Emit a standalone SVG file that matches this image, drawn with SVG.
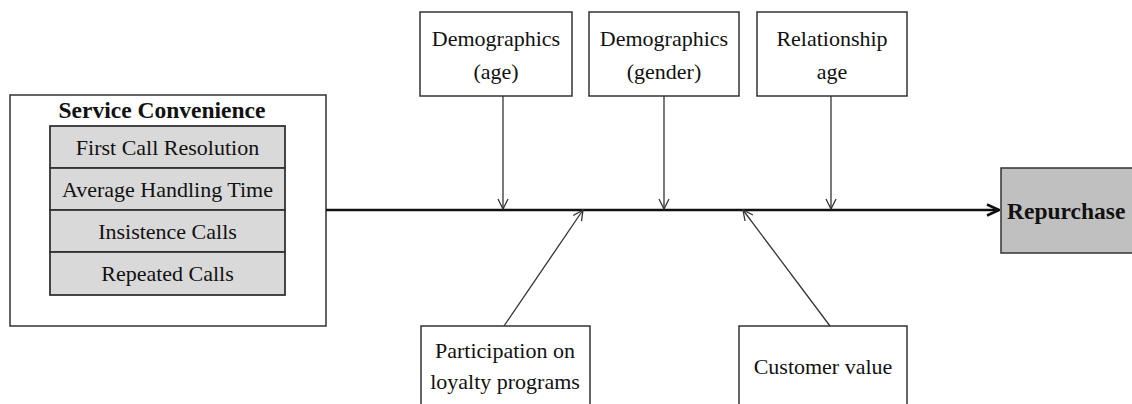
<svg xmlns="http://www.w3.org/2000/svg" width="1132" height="404" viewBox="0 0 1132 404">
<style>
.box{fill:#fff;stroke:#333;stroke-width:1.5}
.row{fill:#d9d9d9;stroke:#333;stroke-width:1.8}
.t{font-family:"Liberation Serif","Times New Roman",serif;font-size:22px;fill:#111;text-anchor:middle}
.b{font-weight:bold;font-size:23.5px}
.thin{stroke:#333;stroke-width:1.3;fill:none}
</style>
<defs>
<marker id="ah" viewBox="0 0 12 12" refX="11" refY="6" markerWidth="12" markerHeight="12" markerUnits="userSpaceOnUse" orient="auto">
<path d="M1,1 L11,6 L1,11" fill="none" stroke="#333" stroke-width="1.3"/>
</marker>
<marker id="ahb" viewBox="0 0 14 14" refX="13" refY="7" markerWidth="14" markerHeight="14" markerUnits="userSpaceOnUse" orient="auto">
<path d="M1,1.5 L13,7 L1,12.5" fill="none" stroke="#111" stroke-width="2.5"/>
</marker>
</defs>
<g id="service">
<rect class="box" x="10" y="95" width="316" height="231"/>
<text class="t b" x="162" y="118">Service Convenience</text>
<rect class="row" x="50" y="126" width="235" height="42"/>
<text class="t" x="167.5" y="155">First Call Resolution</text>
<rect class="row" x="50" y="168" width="235" height="42"/>
<text class="t" x="167.5" y="197">Average Handling Time</text>
<rect class="row" x="50" y="210" width="235" height="42"/>
<text class="t" x="167.5" y="239">Insistence Calls</text>
<rect class="row" x="50" y="252" width="235" height="43"/>
<text class="t" x="167.5" y="281">Repeated Calls</text>
</g>
<g id="demo-age">
<rect class="box" x="420" y="12" width="152" height="84"/>
<text class="t" x="496" y="46">Demographics</text>
<text class="t" x="496" y="79">(age)</text>
</g>
<g id="demo-gender">
<rect class="box" x="589" y="12" width="150" height="84"/>
<text class="t" x="664" y="46">Demographics</text>
<text class="t" x="664" y="79">(gender)</text>
</g>
<g id="rel-age">
<rect class="box" x="757" y="12" width="150" height="84"/>
<text class="t" x="832" y="46">Relationship</text>
<text class="t" x="832" y="79">age</text>
</g>
<g id="loyalty">
<rect class="box" x="421" y="326" width="169" height="90"/>
<text class="t" x="505" y="358">Participation on</text>
<text class="t" x="505" y="389">loyalty programs</text>
</g>
<g id="custval">
<rect class="box" x="739" y="326" width="168" height="90"/>
<text class="t" x="823" y="374">Customer value</text>
</g>
<g id="repurchase">
<rect x="1001" y="168" width="140" height="85" fill="#c0c0c0" stroke="#333" stroke-width="1.5"/>
<text class="t b" x="1007" y="219" style="text-anchor:start">Repurchase</text>
</g>
<g id="connectors">
<line x1="326" y1="210" x2="999" y2="210" stroke="#111" stroke-width="2.6" marker-end="url(#ahb)"/>
<line class="thin" x1="503" y1="96" x2="503" y2="209" marker-end="url(#ah)"/>
<line class="thin" x1="664" y1="96" x2="664" y2="209" marker-end="url(#ah)"/>
<line class="thin" x1="831" y1="96" x2="831" y2="209" marker-end="url(#ah)"/>
<line class="thin" x1="504" y1="326" x2="583" y2="210" marker-end="url(#ah)"/>
<line class="thin" x1="830" y1="326" x2="743" y2="210" marker-end="url(#ah)"/>
</g>
</svg>
